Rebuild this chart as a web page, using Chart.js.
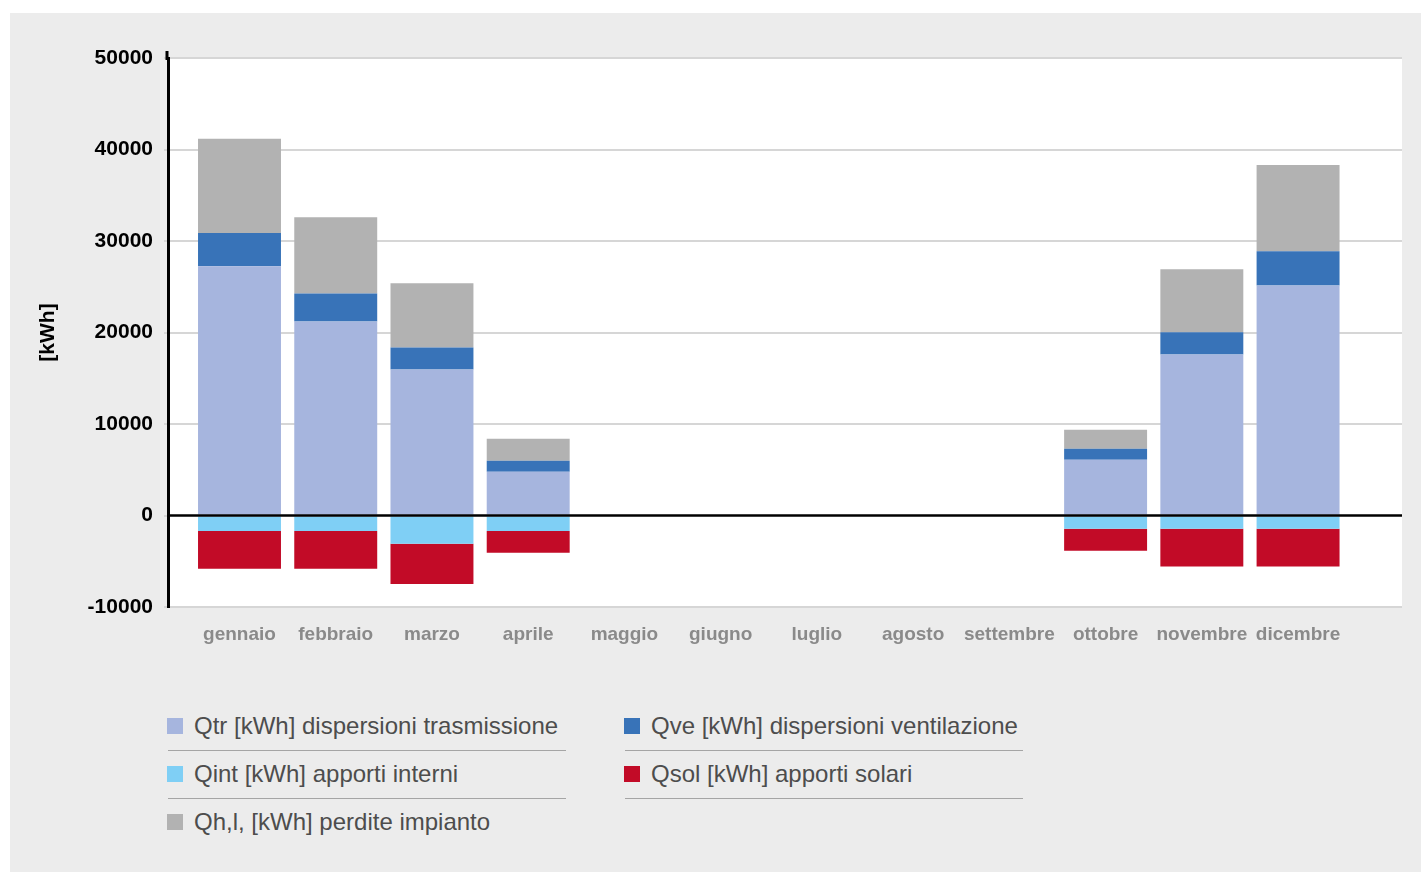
<!DOCTYPE html>
<html lang="it">
<head>
<meta charset="utf-8">
<title>Fabbisogno mensile [kWh]</title>
<script src="https://cdn.jsdelivr.net/npm/chart.js@4.4.1/dist/chart.umd.min.js"></script>
<style>
  html, body { margin: 0; padding: 0; background: #fff; }
  body { width: 1421px; height: 872px; position: relative; overflow: hidden;
         font-family: "Liberation Sans", Arial, Helvetica, sans-serif; }
  #panel { position: absolute; left: 10px; top: 13px; width: 1411px; height: 859px; background: #ececec; }
  #chart { position: absolute; left: 10px; top: 13px; }
  .lg-item { position: absolute; height: 26px; line-height: 26px; font-size: 24px; color: #4d4d4d; white-space: nowrap; }
  .lg-box { position: absolute; left: 0; top: 5px; width: 16px; height: 16px; }
  .lg-text { position: absolute; left: 27px; top: 0; }
  .lg-line { position: absolute; height: 1px; background: #a5a5a5; }
</style>
</head>
<body>
<div id="panel"></div>
<canvas id="chart" width="1411" height="660"></canvas>
<div id="legend"></div>
<script>
// months (categories)
const months = ['gennaio', 'febbraio', 'marzo', 'aprile', 'maggio', 'giugno',
                'luglio', 'agosto', 'settembre', 'ottobre', 'novembre', 'dicembre'];

// series values [kWh]
const qtr  = [27250, 21200, 15950, 4770, null, null, null, null, null, 6090, 17600, 25150];
const qve  = [3620, 3070, 2420, 1210, null, null, null, null, null, 1200, 2420, 3730];
const qint = [-1700, -1700, -3100, -1700, null, null, null, null, null, -1450, -1450, -1450];
const qsol = [-4130, -4130, -4380, -2380, null, null, null, null, null, -2400, -4130, -4130];
const qhl  = [10300, 8330, 7000, 2400, null, null, null, null, null, 2080, 6900, 9430];

const yTicks = [-10000, 0, 10000, 20000, 30000, 40000, 50000];

const labels = {
    qtr: 'Qtr [kWh] dispersioni trasmissione',
    qve: 'Qve [kWh] dispersioni ventilazione',
    qint: 'Qint [kWh] apporti interni',
    qsol: 'Qsol [kWh] apporti solari',
    qhl: 'Qh,l, [kWh] perdite impianto'
};

// linear index axis so the month slots can sit off-centre like the original
const toPoints = arr => arr.map((v, i) => ({ x: i, y: v }));

// white plot area + black zero line over the bars
const plotDecor = {
    id: 'plotDecor',
    beforeDraw(chart) {
        const a = chart.chartArea, c = chart.ctx;
        c.save();
        c.fillStyle = '#ffffff';
        c.fillRect(a.left, a.top, a.right - a.left, a.bottom - a.top);
        c.restore();
    },
    afterDatasetsDraw(chart) {
        const a = chart.chartArea, c = chart.ctx;
        const y0 = chart.scales.y.getPixelForValue(0);
        c.save();
        c.strokeStyle = '#000';
        c.lineWidth = 2.5;
        c.beginPath();
        c.moveTo(a.left, y0);
        c.lineTo(a.right, y0);
        c.stroke();
        // axis line pokes a bit above the top gridline
        c.lineWidth = 3;
        c.beginPath();
        c.moveTo(a.left - 1, a.top - 7);
        c.lineTo(a.left - 1, a.top + 2);
        c.stroke();
        c.restore();
    }
};

const chart = new Chart(document.getElementById('chart'), {
    type: 'bar',
    data: {
        datasets: [
            { label: labels.qtr, data: toPoints(qtr), backgroundColor: '#a6b5de' },
            { label: labels.qve, data: toPoints(qve), backgroundColor: '#3873b8' },
            { label: labels.qint, data: toPoints(qint), backgroundColor: '#7fcff5' },
            { label: labels.qsol, data: toPoints(qsol), backgroundColor: '#c20b27' },
            { label: labels.qhl, data: toPoints(qhl), backgroundColor: '#b2b2b2' }
        ]
    },
    options: {
        responsive: false,
        animation: false,
        barPercentage: 0.862,
        categoryPercentage: 1,
        layout: { padding: { top: 45, right: 19, left: 0, bottom: 0 } },
        plugins: {
            legend: { display: false },
            tooltip: { enabled: false }
        },
        scales: {
            x: {
                type: 'linear',
                stacked: true,
                offset: false,
                min: -0.743,
                max: 12.08,
                afterFit: s => { s.height = 66; },
                afterBuildTicks: s => { s.ticks = months.map((m, i) => ({ value: i })); },
                grid: { display: false, drawTicks: false },
                border: { display: false },
                ticks: {
                    autoSkip: false,
                    maxRotation: 0,
                    padding: 16,
                    color: '#8a8a8a',
                    font: { family: '"Liberation Sans", Arial, sans-serif', size: 19, weight: 'bold' },
                    callback: v => months[v] || ''
                }
            },
            y: {
                stacked: true,
                min: yTicks[0],
                max: yTicks[yTicks.length - 1],
                afterFit: s => { s.width = 158; },
                afterBuildTicks: s => { s.ticks = yTicks.map(v => ({ value: v })); },
                grid: {
                    color: ctx => ctx.tick && ctx.tick.value === 0 ? 'rgba(0,0,0,0)' : '#d6d6d6',
                    lineWidth: 2,
                    tickLength: 4,
                    tickColor: '#d6d6d6'
                },
                border: { color: '#000', width: 3 },
                ticks: {
                    padding: 11,
                    color: '#000',
                    font: { family: '"Liberation Sans", Arial, sans-serif', size: 21, weight: 'bold' },
                    callback: v => String(v)
                },
                title: {
                    display: true,
                    text: '[kWh]',
                    color: '#000',
                    padding: { top: 26, bottom: 0 },
                    font: { family: '"Liberation Sans", Arial, sans-serif', size: 21, weight: 'bold' }
                }
            }
        }
    },
    plugins: [plotDecor]
});

// HTML legend in two columns with thin rules under the first two rows
const legendEl = document.getElementById('legend');
const colX = [167, 624];
const lineX = [[168, 566], [625, 1023]];
const rowTop = 713, rowStep = 48;
chart.data.datasets.forEach((ds, i) => {
    const col = i % 2, row = Math.floor(i / 2);
    const item = document.createElement('div');
    item.className = 'lg-item';
    item.style.left = colX[col] + 'px';
    item.style.top = (rowTop + row * rowStep) + 'px';
    item.innerHTML = '<span class="lg-box" style="background:' + ds.backgroundColor + '"></span>' +
                     '<span class="lg-text"></span>';
    item.querySelector('.lg-text').textContent = ds.label;
    legendEl.appendChild(item);
});
[0, 1].forEach(row => {
    lineX.forEach(([x1, x2]) => {
        const ln = document.createElement('div');
        ln.className = 'lg-line';
        ln.style.left = x1 + 'px';
        ln.style.width = (x2 - x1) + 'px';
        ln.style.top = (750 + row * rowStep) + 'px';
        legendEl.appendChild(ln);
    });
});
</script>
</body>
</html>
